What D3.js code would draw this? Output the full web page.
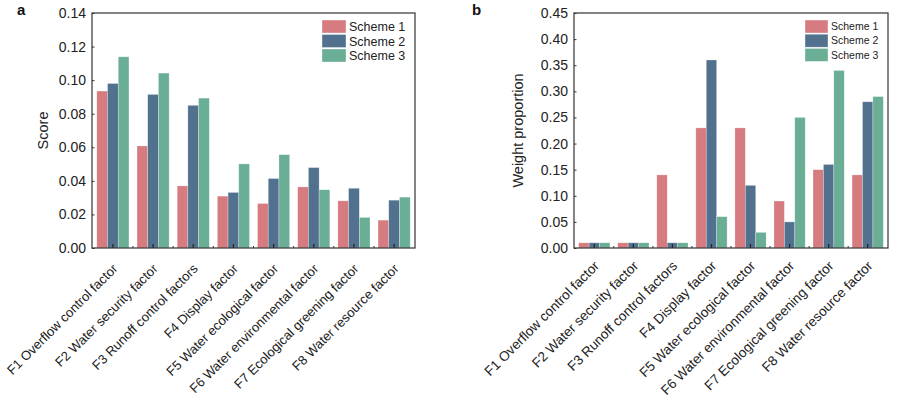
<!DOCTYPE html>
<html>
<head>
<meta charset="utf-8">
<script src="https://cdn.jsdelivr.net/npm/d3@7"></script>
<style>
  html, body { margin: 0; padding: 0; background: #fff; }
  svg { display: block; font-family: Arial, "Liberation Sans", sans-serif; }
</style>
</head>
<body>
<svg id="chart" width="918" height="406"></svg>
<script>
const factors = [
  "F1 Overflow control factor",
  "F2 Water security factor",
  "F3 Runoff control factors",
  "F4 Display factor",
  "F5 Water ecological factor",
  "F6 Water environmental factor",
  "F7 Ecological greening factor",
  "F8 Water resource factor"
];
const schemes = ["Scheme 1", "Scheme 2", "Scheme 3"];
const schemeColors = ["#d67c80", "#52718e", "#6aae96"];

// panel a: score
const scoreS1 = [0.0935, 0.0608, 0.0370, 0.0309, 0.0265, 0.0364, 0.0281, 0.0166];
const scoreS2 = [0.0980, 0.0915, 0.0850, 0.0331, 0.0414, 0.0479, 0.0356, 0.0285];
const scoreS3 = [0.1139, 0.1042, 0.0893, 0.0501, 0.0556, 0.0347, 0.0182, 0.0303];
const scoreTicks = [0, 0.02, 0.04, 0.06, 0.08, 0.10, 0.12, 0.14];

// panel b: weight proportion
const weightS1 = [0.01, 0.01, 0.14, 0.23, 0.23, 0.09, 0.15, 0.14];
const weightS2 = [0.01, 0.01, 0.01, 0.36, 0.12, 0.05, 0.16, 0.28];
const weightS3 = [0.01, 0.01, 0.01, 0.06, 0.03, 0.25, 0.34, 0.29];
const weightTicks = [0, 0.05, 0.10, 0.15, 0.20, 0.25, 0.30, 0.35, 0.40, 0.45];

const svg = d3.select("#chart");

const panels = [
  {
    tag: "a", tagX: 17, title: "Score", titleX: 48,
    left: 92, right: 415, top: 13, bottom: 248,
    series: [scoreS1, scoreS2, scoreS3], ticks: scoreTicks, max: 0.14,
    fmt: d3.format(".2f"), xFont: 13.1, xOff: 15,
    legend: { x: 322, y: 20, sw: 24, sh: 13, step: 14.5, font: 12.5 }
  },
  {
    tag: "b", tagX: 472, title: "Weight proportion", titleX: 523,
    left: 574, right: 888, top: 13, bottom: 248,
    series: [weightS1, weightS2, weightS3], ticks: weightTicks, max: 0.45,
    fmt: d3.format(".2f"), xFont: 13.6, xOff: 12,
    legend: { x: 805, y: 20, sw: 23, sh: 13, step: 14.2, font: 10.5 }
  }
];

panels.forEach(p => {
  const g = svg.append("g");

  const x = d3.scaleBand().domain(factors).range([p.left, p.right])
    .paddingInner(0.2).paddingOuter(0.12);
  const xs = d3.scaleBand().domain(schemes).range([0, x.bandwidth()]);
  const y = d3.scaleLinear().domain([0, p.max]).range([p.bottom, p.top]);

  // bars
  factors.forEach((f, i) => {
    schemes.forEach((s, j) => {
      const v = p.series[j][i];
      g.append("rect")
        .attr("x", x(f) + xs(s))
        .attr("y", y(v))
        .attr("width", xs.bandwidth())
        .attr("height", y(0) - y(v))
        .attr("fill", schemeColors[j])
        .attr("stroke", "rgba(255,255,255,0.45)")
        .attr("stroke-width", 0.6);
    });
  });

  // y axis
  const ya = g.append("g").attr("transform", `translate(${p.left},0)`)
    .call(d3.axisLeft(y).tickValues(p.ticks).tickFormat(p.fmt).tickSize(-2.5).tickPadding(6));
  ya.select(".domain").remove();
  ya.selectAll("line").attr("stroke", "#333");
  ya.selectAll("text").attr("font-size", 14).attr("fill", "#222")
    .attr("font-family", "Arial, 'Liberation Sans', sans-serif");

  // x axis ticks (inward) at centres
  const xa = g.append("g").attr("transform", `translate(0,${p.bottom})`)
    .call(d3.axisBottom(x).tickSize(-4).tickFormat(""));
  xa.select(".domain").remove();
  xa.selectAll("line").attr("stroke", "#222").attr("stroke-width", 1.2);

  // minor ticks between groups
  const gap = x.step() * x.paddingInner();
  factors.slice(1).forEach(f => {
    const bx = x(f) - gap / 2;
    g.append("line").attr("x1", bx).attr("x2", bx)
      .attr("y1", p.bottom).attr("y2", p.bottom - 2)
      .attr("stroke", "#333").attr("stroke-width", 1);
  });

  // x labels rotated
  factors.forEach(f => {
    const cx = x(f) + x.bandwidth() / 2;
    g.append("text")
      .attr("transform", `translate(${cx - 1},${p.bottom + p.xOff}) rotate(-45)`)
      .attr("text-anchor", "end")
      .attr("dy", "0.7em")
      .attr("font-size", p.xFont)
      .attr("fill", "#222")
      .text(f);
  });

  // frame
  g.append("rect")
    .attr("x", p.left).attr("y", p.top)
    .attr("width", p.right - p.left).attr("height", p.bottom - p.top)
    .attr("fill", "none").attr("stroke", "#333").attr("stroke-width", 1.2);

  // axis title
  g.append("text")
    .attr("transform", `translate(${p.titleX},${(p.top + p.bottom) / 2}) rotate(-90)`)
    .attr("text-anchor", "middle")
    .attr("font-size", 14.5)
    .attr("fill", "#222")
    .text(p.title);

  // panel tag
  g.append("text")
    .attr("x", p.tagX).attr("y", 15)
    .attr("font-size", 15).attr("font-weight", "bold")
    .attr("fill", "#111")
    .text(p.tag);

  // legend
  const L = p.legend;
  schemes.forEach((s, j) => {
    const ly = L.y + j * L.step;
    g.append("rect")
      .attr("x", L.x).attr("y", ly)
      .attr("width", L.sw).attr("height", L.sh)
      .attr("fill", schemeColors[j])
      .attr("stroke", "rgba(255,255,255,0.6)").attr("stroke-width", 0.6);
    g.append("text")
      .attr("x", L.x + L.sw + 3).attr("y", ly + L.sh / 2)
      .attr("dy", "0.36em")
      .attr("font-size", L.font)
      .attr("fill", "#222")
      .text(s);
  });
});
</script>
</body>
</html>
